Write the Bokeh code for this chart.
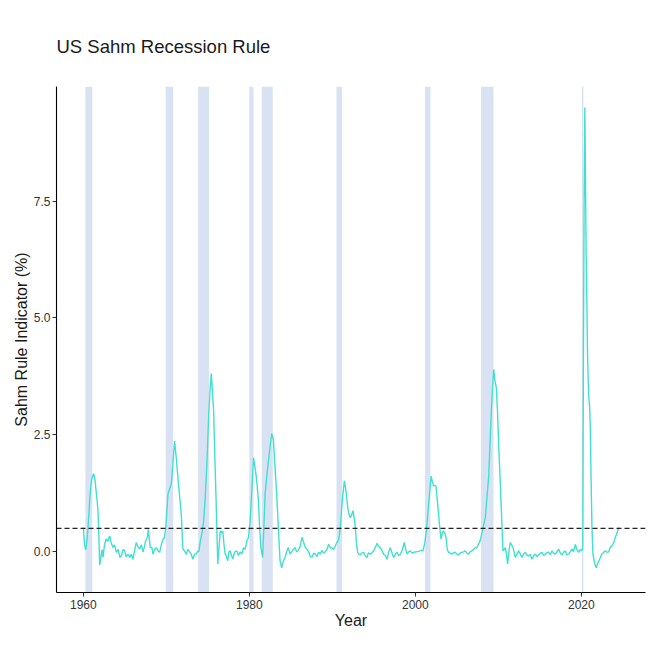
from bokeh.plotting import figure
from bokeh.models import Range1d, FixedTicker, PrintfTickFormatter, BoxAnnotation, Span, ColumnDataSource
from bokeh.embed import file_html
from bokeh.resources import INLINE

# ---- data (decimal year, Sahm rule indicator %) ----
year = [
    1960.00, 1960.15, 1960.30, 1960.45, 1960.60, 1960.80, 1961.00, 1961.24, 1961.40, 1961.60,
    1961.77, 1961.90, 1961.97, 1962.10, 1962.25, 1962.37, 1962.55, 1962.77, 1962.95, 1963.17,
    1963.35, 1963.58, 1963.75, 1963.98, 1964.20, 1964.40, 1964.58, 1964.80, 1964.98, 1965.15,
    1965.38, 1965.60, 1965.80, 1965.98, 1966.20, 1966.39, 1966.60, 1966.79, 1967.00, 1967.19,
    1967.35, 1967.50, 1967.70, 1967.83, 1968.07, 1968.25, 1968.39, 1968.60, 1968.80, 1969.00,
    1969.20, 1969.40, 1969.60, 1969.75, 1969.92, 1970.10, 1970.20, 1970.40, 1970.60, 1970.80,
    1971.00, 1971.20, 1971.40, 1971.60, 1971.80, 1972.00, 1972.20, 1972.40, 1972.60, 1972.80,
    1973.00, 1973.20, 1973.40, 1973.60, 1973.80, 1973.90, 1974.10, 1974.30, 1974.50, 1974.70,
    1974.90, 1975.10, 1975.25, 1975.42, 1975.55, 1975.70, 1975.85, 1976.00, 1976.20, 1976.35,
    1976.50, 1976.65, 1976.80, 1976.95, 1977.10, 1977.25, 1977.40, 1977.55, 1977.70, 1977.85,
    1978.00, 1978.25, 1978.50, 1978.70, 1978.90, 1979.10, 1979.30, 1979.50, 1979.70, 1979.90,
    1980.10, 1980.30, 1980.50, 1980.65, 1980.80, 1980.95, 1981.10, 1981.25, 1981.40, 1981.60,
    1981.75, 1981.90, 1982.10, 1982.30, 1982.50, 1982.70, 1982.90, 1983.10, 1983.30, 1983.50,
    1983.70, 1983.90, 1984.10, 1984.30, 1984.50, 1984.70, 1984.90, 1985.10, 1985.30, 1985.50,
    1985.70, 1985.90, 1986.10, 1986.35, 1986.55, 1986.75, 1986.95, 1987.15, 1987.35, 1987.55,
    1987.75, 1987.95, 1988.15, 1988.35, 1988.55, 1988.75, 1988.95, 1989.15, 1989.35, 1989.55,
    1989.75, 1989.95, 1990.15, 1990.36, 1990.55, 1990.70, 1990.85, 1990.96, 1991.20, 1991.45,
    1991.65, 1991.85, 1992.00, 1992.17, 1992.35, 1992.50, 1992.65, 1992.77, 1992.90, 1993.05,
    1993.20, 1993.37, 1993.55, 1993.77, 1993.95, 1994.18, 1994.35, 1994.58, 1994.80, 1994.98,
    1995.20, 1995.38, 1995.58, 1995.78, 1995.98, 1996.18, 1996.40, 1996.59, 1996.80, 1996.99,
    1997.20, 1997.39, 1997.60, 1997.79, 1998.00, 1998.19, 1998.45, 1998.67, 1998.85, 1999.00,
    1999.20, 1999.40, 1999.60, 1999.80, 2000.10, 2000.40, 2000.70, 2000.93, 2001.15, 2001.33,
    2001.60, 2001.90, 2002.05, 2002.20, 2002.35, 2002.50, 2002.65, 2002.80, 2002.95, 2003.10,
    2003.25, 2003.40, 2003.55, 2003.70, 2003.85, 2004.00, 2004.20, 2004.40, 2004.60, 2004.80,
    2005.00, 2005.20, 2005.40, 2005.60, 2005.80, 2006.00, 2006.20, 2006.40, 2006.60, 2006.80,
    2007.00, 2007.20, 2007.40, 2007.60, 2007.80, 2008.00, 2008.20, 2008.43, 2008.60, 2008.83,
    2009.00, 2009.16, 2009.30, 2009.44, 2009.60, 2009.76, 2009.90, 2010.04, 2010.18, 2010.32,
    2010.45, 2010.56, 2010.70, 2010.84, 2010.98, 2011.12, 2011.30, 2011.45, 2011.60, 2011.77,
    2011.90, 2012.05, 2012.25, 2012.45, 2012.65, 2012.85, 2013.05, 2013.25, 2013.45, 2013.65,
    2013.85, 2014.05, 2014.25, 2014.46, 2014.65, 2014.86, 2015.05, 2015.26, 2015.45, 2015.66,
    2015.85, 2016.06, 2016.25, 2016.47, 2016.65, 2016.87, 2017.05, 2017.27, 2017.45, 2017.67,
    2017.85, 2018.07, 2018.25, 2018.47, 2018.65, 2018.88, 2019.05, 2019.28, 2019.45, 2019.68,
    2019.85, 2020.08, 2020.17, 2020.25, 2020.33, 2020.42, 2020.50, 2020.58, 2020.67, 2020.75,
    2020.83, 2020.92, 2021.00, 2021.08, 2021.17, 2021.28, 2021.40, 2021.55, 2021.70, 2021.80,
    2021.95, 2022.10, 2022.29, 2022.45, 2022.60, 2022.75, 2022.89, 2023.10, 2023.30, 2023.50,
    2023.69, 2023.90, 2024.10, 2024.30, 2024.50,
]
sahm = [
    0.52, 0.15, 0.04, 0.25, 0.60, 1.20, 1.55, 1.67, 1.55, 1.20,
    0.88, 0.20, -0.28, -0.15, 0.05, -0.12, 0.15, 0.28, 0.22, 0.34,
    0.20, 0.09, 0.15, -0.01, 0.05, -0.12, -0.09, 0.05, 0.02, -0.10,
    -0.05, -0.12, -0.05, -0.16, 0.05, 0.20, 0.10, 0.06, 0.15, 0.00,
    0.10, 0.23, 0.30, 0.48, 0.09, 0.10, -0.05, 0.05, 0.09, 0.02,
    -0.01, 0.15, 0.27, 0.30, 0.48, 0.95, 1.23, 1.35, 1.45, 1.90,
    2.37, 2.00, 1.59, 1.20, 0.80, 0.06, 0.02, -0.05, 0.05, 0.00,
    -0.05, -0.16, -0.05, -0.05, 0.02, 0.00, 0.23, 0.40, 0.66, 1.20,
    1.94, 2.90, 3.40, 3.81, 3.45, 3.01, 2.00, 1.09, -0.26, 0.10,
    0.45, 0.40, 0.45, 0.15, -0.05, -0.10, -0.19, 0.00, 0.02, -0.08,
    -0.15, 0.00, 0.02, -0.08, 0.00, -0.05, 0.09, 0.05, 0.23, 0.30,
    0.66, 1.30, 2.01, 1.85, 1.66, 1.40, 1.09, 0.50, 0.09, -0.12,
    0.50, 1.23, 1.60, 1.94, 2.25, 2.53, 2.40, 1.80, 1.23, 0.50,
    -0.19, -0.34, -0.20, -0.12, 0.00, 0.09, -0.05, 0.00, 0.05, 0.09,
    0.00, 0.03, 0.10, 0.31, 0.20, 0.09, 0.05, 0.00, -0.10, -0.12,
    -0.03, -0.05, -0.10, -0.01, -0.05, 0.03, -0.03, 0.00, 0.05, 0.16,
    0.08, 0.09, 0.05, 0.13, 0.20, 0.23, 0.35, 0.52, 1.10, 1.52,
    1.30, 0.95, 0.80, 0.73, 0.80, 0.88, 0.70, 0.52, 0.20, -0.01,
    -0.05, -0.07, -0.03, -0.01, -0.08, -0.12, -0.02, -0.05, -0.01, 0.02,
    0.10, 0.18, 0.12, 0.09, 0.03, -0.05, -0.08, -0.16, 0.00, 0.09,
    -0.03, -0.12, -0.05, -0.01, -0.08, -0.05, 0.05, 0.20, 0.05, -0.05,
    0.00, 0.02, -0.03, -0.01, 0.00, 0.01, 0.03, 0.02, 0.20, 0.45,
    1.02, 1.62, 1.50, 1.41, 1.42, 1.39, 1.10, 0.80, 0.50, 0.27,
    0.40, 0.45, 0.40, 0.31, 0.05, -0.01, -0.03, -0.05, -0.02, -0.01,
    -0.05, -0.07, -0.03, -0.01, 0.00, 0.02, -0.02, -0.05, 0.00, 0.02,
    0.05, 0.09, 0.08, 0.16, 0.23, 0.38, 0.55, 0.73, 1.10, 1.59,
    2.30, 3.01, 3.50, 3.90, 3.65, 3.51, 3.00, 2.30, 1.70, 1.09,
    0.50, 0.02, 0.05, 0.09, -0.05, -0.26, 0.05, 0.20, 0.15, 0.09,
    0.00, -0.12, -0.05, 0.02, -0.05, -0.12, -0.05, -0.01, -0.07, -0.09,
    -0.05, -0.16, -0.08, -0.05, -0.10, -0.07, -0.03, -0.01, -0.08, -0.05,
    -0.02, -0.01, -0.06, 0.02, -0.03, -0.05, 0.00, 0.06, -0.02, -0.07,
    -0.01, 0.02, -0.06, -0.05, 0.00, 0.06, 0.00, 0.16, 0.05, -0.01,
    0.05, 0.02, 0.13, 4.07, 7.30, 9.50, 7.97, 6.37, 5.30, 4.20,
    3.63, 3.27, 3.10, 2.66, 1.60, 0.52, -0.05, -0.20, -0.30, -0.34,
    -0.25, -0.20, -0.12, -0.05, -0.03, 0.00, 0.02, -0.01, 0.00, 0.10,
    0.13, 0.20, 0.31, 0.40, 0.52,
]

# NBER recessions (decimal years)
rec_start = [1960.25, 1969.92, 1973.83, 1980.00, 1981.50, 1990.50, 2001.17, 2007.92, 2020.08]
rec_end   = [1961.08, 1970.83, 1975.17, 1980.50, 1982.83, 1991.17, 2001.83, 2009.42, 2020.25]

threshold = 0.5
x_ticks = [1960, 1980, 2000, 2020]
y_ticks = [0.0, 2.5, 5.0, 7.5]

FONT = "Liberation Sans"

p = figure(width=653, height=653, output_backend="svg", toolbar_location=None,
           x_range=Range1d(1956.77, 2027.73), y_range=Range1d(-0.87, 9.95),
           title="US Sahm Recession Rule",
           min_border_left=56, min_border_right=8, min_border_top=86, min_border_bottom=61)

p.background_fill_color = "white"
p.border_fill_color = "white"
p.outline_line_color = None
p.xgrid.grid_line_color = None
p.ygrid.grid_line_color = None

p.title.text_font = FONT
p.title.text_font_size = "18.5px"
p.title.text_font_style = "normal"
p.title.text_color = "#1a1a1a"
p.title.align = "left"
p.title.standoff = 60

for s, e in zip(rec_start, rec_end):
    p.add_layout(BoxAnnotation(left=s, right=e, fill_color="#d9e2f3", fill_alpha=1.0,
                               line_color=None, level="underlay"))

src = ColumnDataSource(dict(year=year, sahm=sahm))
p.line("year", "sahm", source=src, line_color="#40E0D0", line_width=1.4)

p.add_layout(Span(location=threshold, dimension="width", line_color="#222222",
                  line_width=1.3, line_dash="5 3"))

for ax in (p.xaxis[0], p.yaxis[0]):
    ax.axis_line_color = "black"
    ax.axis_line_width = 1.1
    ax.major_tick_line_color = "#333333"
    ax.major_tick_out = 4
    ax.major_tick_in = 0
    ax.minor_tick_line_color = None
    ax.major_label_text_font = FONT
    ax.major_label_text_font_size = "12px"
    ax.major_label_text_color = "#333333"
    ax.axis_label_text_font = FONT
    ax.axis_label_text_font_size = "16px"
    ax.axis_label_text_font_style = "normal"
    ax.axis_label_text_color = "#1a1a1a"

p.xaxis[0].ticker = FixedTicker(ticks=x_ticks)
p.yaxis[0].ticker = FixedTicker(ticks=y_ticks)
p.yaxis[0].formatter = PrintfTickFormatter(format="%.1f")
p.xaxis[0].axis_label = "Year"
p.yaxis[0].axis_label = "Sahm Rule Indicator (%)"
p.xaxis[0].major_label_standoff = 3
p.xaxis[0].axis_label_standoff = 0
p.yaxis[0].major_label_standoff = 2
p.yaxis[0].axis_label_standoff = 1

open("out.html", "w").write(file_html(p, INLINE))
